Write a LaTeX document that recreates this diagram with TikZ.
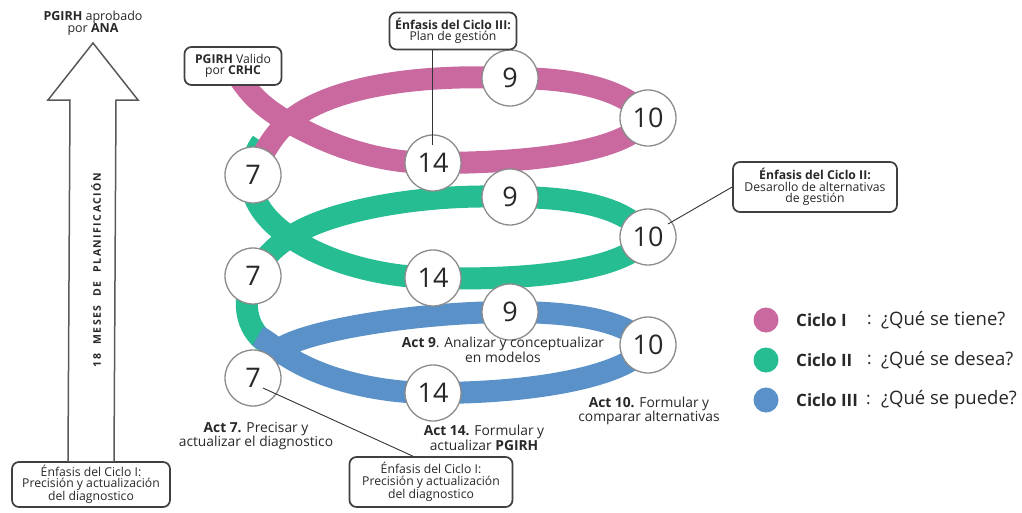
\documentclass[tikz,border=0pt]{standalone}
\usepackage{fontspec}
\setmainfont{Open Sans}
\usetikzlibrary{calc}
\definecolor{cpink}{RGB}{201,105,160}
\definecolor{cgreen}{RGB}{38,189,146}
\definecolor{cblue}{RGB}{90,145,200}
\definecolor{txt}{RGB}{40,40,40}
\begin{document}
\begin{tikzpicture}[x=1pt,y=-1pt,
  band/.style={line width=22pt, line cap=butt},
  num/.style={circle, draw=black!45, line width=1.3pt, fill=white, minimum size=56pt, inner sep=0pt, font=\fontsize{27}{27}\selectfont, text=txt},
  callout/.style={draw=black!75, line width=1.7pt, rounded corners=7pt, fill=white, align=center, font=\fontsize{12.2}{11.3}\selectfont, inner sep=1pt, text=txt},
  act/.style={align=center, font=\fontsize{13.8}{12.5}\selectfont, text=txt},
  legdot/.style={circle, minimum size=25pt, inner sep=0pt},
  legtxt/.style={anchor=west, font=\fontsize{17}{17}\selectfont, text=txt, inner sep=0pt},
  legq/.style={anchor=west, font=\fontsize{18.5}{18.5}\selectfont, text=txt, inner sep=0pt},
  pointer/.style={draw=black!80, line width=0.9pt}
]
\useasboundingbox (0,0) rectangle (1022,512);
\fill[white] (0,0) rectangle (1022,512);

% node positions
\coordinate (p7a) at (253,175);  \coordinate (p9a) at (510,78);
\coordinate (p10a) at (648,118); \coordinate (p14a) at (433,163);
\coordinate (p7b) at (253,276);  \coordinate (p9b) at (510,197);
\coordinate (p10b) at (648,237); \coordinate (p14b) at (433,278);
\coordinate (p7c) at (253,378);  \coordinate (p9c) at (510,312);
\coordinate (p10c) at (648,345); \coordinate (p14c) at (433,393);
\coordinate (xa) at (288,122);
\coordinate (xb) at (290,237);
\coordinate (xc) at (278,350);

% green band (cycle II)
\draw[band, cgreen] (270,345) .. controls (248,333) and (240,305) .. (p7b)
  .. controls (262,260) and (274,247) .. (xb)
  .. controls (325,212) and (420,193) .. (p9b)
  .. controls (590,197) and (630,212) .. (p10b)
  .. controls (630,268) and (540,281) .. (p14b)
  .. controls (370,276) and (320,258) .. (xb)
  .. controls (268,222) and (248,200) .. (251,172)
  .. controls (252,160) and (256,150) .. (262,142);

% blue band (cycle III)
\draw[band, cblue] (258,336) .. controls (265,340) and (272,345) .. (xc)
  .. controls (310,375) and (370,393) .. (p14c)
  .. controls (540,393) and (630,375) .. (p10c)
  .. controls (630,325) and (590,312) .. (p9c)
  .. controls (420,312) and (305,330) .. (xc)
  .. controls (268,358) and (260,368) .. (p7c);

% pink band (cycle I)
\draw[band, cpink] (238,76) .. controls (250,95) and (265,109) .. (xa)
  .. controls (320,140) and (370,163) .. (p14a)
  .. controls (540,163) and (630,150) .. (p10a)
  .. controls (630,95) and (590,78) .. (p9a)
  .. controls (420,74) and (330,86) .. (xa)
  .. controls (272,136) and (262,155) .. (p7a);

% number circles
\node[num] (n7a) at (p7a) {7};
\node[num] (n9a) at (p9a) {9};
\node[num] (n10a) at (p10a) {10};
\node[num] (n14a) at (p14a) {14};
\node[num] (n7b) at (p7b) {7};
\node[num] (n9b) at (p9b) {9};
\node[num] (n10b) at (p10b) {10};
\node[num] (n14b) at (p14b) {14};
\node[num] (n7c) at (p7c) {7};
\node[num] (n9c) at (p9c) {9};
\node[num] (n10c) at (p10c) {10};
\node[num] (n14c) at (p14c) {14};

% callouts
\node[callout, minimum width=97pt, minimum height=38pt] (pv) at (233,66) {\textbf{PGIRH} Valido\\por \textbf{CRHC}};
\node[callout, minimum width=127pt, minimum height=37pt] (e3) at (453,31) {\textbf{Énfasis del Ciclo III:}\\Plan de gestión};
\node[callout, minimum width=164pt, minimum height=50pt] (e2) at (815,187) {\textbf{Énfasis del Ciclo II:}\\Desarollo de alternativas\\de gestión};
\node[callout, minimum width=163pt, minimum height=50pt] (e1m) at (431,482) {Énfasis del Ciclo I:\\Precisión y actualización\\del diagnostico};
\node[callout, minimum width=158pt, minimum height=45pt] (e1b) at (91,484.5) {Énfasis del Ciclo I:\\Precisión y actualización\\del diagnostico};

% pointer lines
\coordinate (t14a) at (432,145);
\coordinate (t10b) at (668,224);
\coordinate (t7c) at (263,388);
\draw[pointer] (e3.south -| t14a) -- (t14a);
\draw[pointer] (e2.west) -- (t10b);
\draw[pointer] ($(e1m.north west)!0.39!(e1m.north east)$) -- (t7c);

% top label
\node[align=center, font=\fontsize{12.5}{12}\selectfont, text=txt] (ana) at (93,23) {\textbf{PGIRH} aprobado\\por \textbf{ANA}};

% hollow arrow
\draw[draw=black!65, line width=1.5pt, fill=white]
  ($(e1b.north)+(-23,0)$) -- (70,100) -- (48,100) -- (93,43) -- (138,100) -- (116,100) -- ($(e1b.north)+(23,0)$);
\node[rotate=90, font=\fontsize{10.5}{10.5}\selectfont\bfseries\addfontfeatures{LetterSpace=14}, text=txt] (meses) at (96,270) {18\hspace{9pt}MESES\hspace{9pt}DE\hspace{9pt}PLANIFICACIÓN};

% activity labels
\node[act] (a9) at (503,350) {\textbf{Act 9}. Analizar y conceptualizar\\en modelos};
\node[act] (a10) at (649,411) {\textbf{Act 10.} Formular y\\comparar alternativas};
\node[act] (a14) at (484,438) {\textbf{Act 14.} Formular y\\actualizar \textbf{PGIRH}};
\node[act] (a7) at (256,436) {\textbf{Act 7.} Precisar y\\actualizar el diagnostico};

% legend
\node[legdot, fill=cpink] (l1) at (766,320) {};
\node[legdot, fill=cgreen] (l2) at (766,360) {};
\node[legdot, fill=cblue] (l3) at (766,400) {};
\node[legtxt] (lt1) at (796,320) {\textbf{Ciclo I}};
\node[legtxt] (lt2) at (796,360) {\textbf{Ciclo II}};
\node[legtxt] (lt3) at (796,400) {\textbf{Ciclo III}};
\node[legtxt] (lc1) at (867,320) {:};
\node[legtxt] (lc2) at (867,360) {:};
\node[legtxt] (lc3) at (866,400) {:};
\node[legq] (lq1) at (881,320) {¿Qué se tiene?};
\node[legq] (lq2) at (881,360) {¿Qué se desea?};
\node[legq] (lq3) at (881,400) {¿Qué se puede?};
\end{tikzpicture}
\end{document}
